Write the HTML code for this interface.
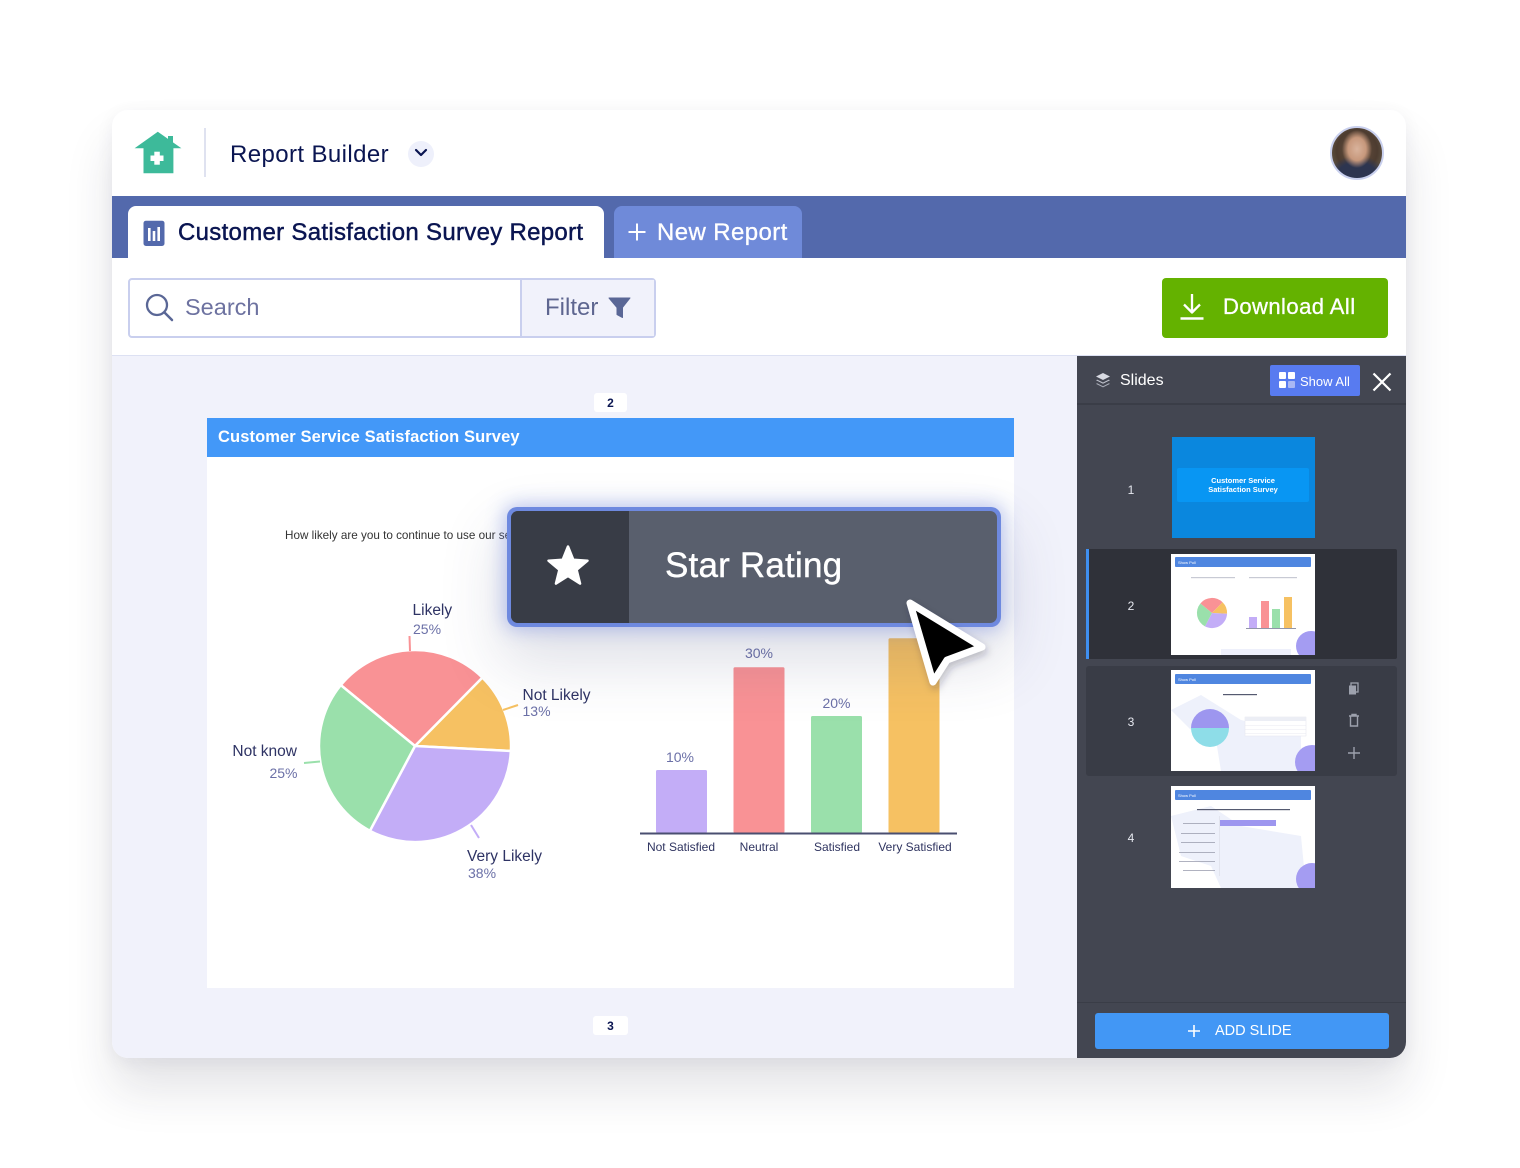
<!DOCTYPE html>
<html><head><meta charset="utf-8">
<style>
*{margin:0;padding:0;box-sizing:border-box}
body{width:1520px;height:1168px;background:#fff;position:relative;overflow:hidden;font-family:"Liberation Sans",sans-serif}
.a{position:absolute;white-space:nowrap;line-height:1}
#win{position:absolute;left:112px;top:110px;width:1294px;height:948px;border-radius:16px;background:#fff;box-shadow:0 32px 48px rgba(30,35,60,0.12),0 4px 18px rgba(30,35,60,0.06);overflow:hidden}
.navy{color:#0a1551}
.lbl{font-size:15.5px;color:#2e3364}
.pct{font-size:14px;color:#6b70a7}
.bl{font-size:14px;color:#6b70a7;text-align:center;width:60px}
.cat{font-size:12px;color:#2f3460;text-align:center;width:100px}
.num{font-size:12px;color:#e6e8ef;width:20px;text-align:center}
</style></head><body>

<div id="win">
  <div class="a" style="left:0;top:86px;width:1294px;height:62px;background:#5369ac"></div>
  <div class="a" style="left:0;top:245px;width:1294px;height:2px;background:#dde1f3"></div>
  <div class="a" style="left:0;top:246px;width:965px;height:702px;background:#f1f2fb"></div>
  <div class="a" style="left:965px;top:246px;width:329px;height:702px;background:#434651"></div>
</div>

<!-- header -->
<svg class="a" style="left:130px;top:128px" width="56" height="50" viewBox="130 128 56 50">
  <rect x="168" y="136" width="5" height="14" fill="#3dba9a"/>
  <polygon points="157.8,131.7 181.4,148.3 173.4,148.3 173.4,173.3 143.5,173.3 143.5,148.3 134.6,148.3" fill="#3dba9a"/>
  <rect x="150.5" y="155.5" width="13" height="5.5" fill="#fff"/>
  <rect x="154.3" y="151.7" width="5.5" height="13" fill="#fff"/>
</svg>
<div class="a" style="left:204px;top:128px;width:2px;height:49px;background:#dfe2f0"></div>
<div class="a navy" style="left:230px;top:142.7px;font-size:24px;letter-spacing:0.4px">Report Builder</div>
<div class="a" style="left:407.5px;top:140.5px;width:26px;height:26px;border-radius:50%;background:#eef0fb"></div>
<svg class="a" style="left:413px;top:147px" width="16" height="12"><polyline points="3,3 8,8 13,3" fill="none" stroke="#0a1551" stroke-width="2.2" stroke-linecap="round" stroke-linejoin="round"/></svg>
<div class="a" style="left:1330px;top:126px;width:54px;height:54px;border-radius:50%;border:2px solid #c9d0ee;background:radial-gradient(ellipse 30% 38% at 50% 42%,#d9b39c 0,#c7987c 60%,transparent 100%),radial-gradient(ellipse 60% 45% at 50% 100%,#2d3550 0,#2d3550 70%,transparent 100%),radial-gradient(circle at 50% 45%,#6b5342 0,#4d3c30 55%,#7a7560 100%)"></div>

<!-- tabs -->
<div class="a" style="left:128px;top:206px;width:476px;height:52px;background:#fff;border-radius:8px 8px 0 0"></div>
<svg class="a" style="left:143px;top:220px" width="22" height="26">
  <rect x="0.5" y="0.7" width="21" height="25.3" rx="2.5" fill="#5369ac"/>
  <rect x="5" y="8" width="2.6" height="13" fill="#fff"/>
  <rect x="9.7" y="11" width="2.6" height="10" fill="#fff"/>
  <rect x="14.4" y="7" width="2.6" height="14" fill="#fff"/>
</svg>
<div class="a navy" style="left:178px;top:220.7px;font-size:24px;-webkit-text-stroke:0.45px #0a1551;letter-spacing:0.3px">Customer Satisfaction Survey Report</div>
<div class="a" style="left:614px;top:206px;width:188px;height:52px;background:#6f8ad9;border-radius:8px 8px 0 0"></div>
<svg class="a" style="left:627px;top:222px" width="20" height="20"><path d="M10 1.5V18.5M1.5 10H18.5" stroke="#fff" stroke-width="2"/></svg>
<div class="a" style="left:657px;top:220.7px;font-size:24px;color:#fff;-webkit-text-stroke:0.3px #fff;letter-spacing:0.4px">New Report</div>

<!-- toolbar -->
<div class="a" style="left:128px;top:278px;width:528px;height:60px;border:2px solid #c9cfee;border-radius:4px;background:#fff"></div>
<div class="a" style="left:520px;top:280px;width:134px;height:56px;background:#f1f2fb;border-left:2px solid #c9cfee"></div>
<svg class="a" style="left:144px;top:293px" width="32" height="32"><circle cx="13" cy="12" r="10" fill="none" stroke="#5a6796" stroke-width="2.3"/><line x1="20.5" y1="19.5" x2="28" y2="27" stroke="#5a6796" stroke-width="2.5" stroke-linecap="round"/></svg>
<div class="a" style="left:185px;top:296.1px;font-size:23.5px;color:#6d72a0">Search</div>
<div class="a" style="left:545px;top:295.7px;font-size:24px;color:#5e6690">Filter</div>
<svg class="a" style="left:608px;top:297px" width="24" height="22"><path d="M1 1H22L14.5 10.5V20.5L9 17.5V10.5Z" fill="#5a6796" stroke="#5a6796" stroke-width="1" stroke-linejoin="round"/></svg>
<div class="a" style="left:1162px;top:278px;width:226px;height:60px;background:#64b200;border-radius:4px"></div>
<svg class="a" style="left:1178px;top:292px" width="28" height="30"><path d="M14 2V20M6 12.5L14 20.5L22 12.5" fill="none" stroke="#fff" stroke-width="2.3" stroke-linejoin="round"/><line x1="2.5" y1="26.5" x2="25.5" y2="26.5" stroke="#fff" stroke-width="2.4"/></svg>
<div class="a" style="left:1223px;top:296.4px;font-size:22px;letter-spacing:0.45px;color:#fff;-webkit-text-stroke:0.3px #fff">Download All</div>

<!-- slides panel -->
<div class="a" style="left:1077px;top:403px;width:329px;height:2px;background:#3a3d47"></div>
<svg class="a" style="left:1094px;top:371px" width="18" height="18">
  <path d="M9 2L16 5.5L9 9L2 5.5Z" fill="#d8dae2"/>
  <path d="M3.2 8.6L9 11.5L14.8 8.6L16 9.2L9 12.7L2 9.2Z" fill="#bfc2cc"/>
  <path d="M3.2 12.3L9 15.2L14.8 12.3L16 12.9L9 16.4L2 12.9Z" fill="#a9adb8"/>
</svg>
<div class="a" style="left:1120px;top:372.5px;font-size:16px;color:#fff">Slides</div>
<div class="a" style="left:1270px;top:365px;width:90px;height:31px;background:#587bf0;border-radius:2px"></div>
<svg class="a" style="left:1279px;top:372px" width="17" height="17"><rect x="0" y="0" width="7" height="7" rx="1" fill="#fff"/><rect x="9" y="0" width="7" height="7" rx="1" fill="#fff"/><rect x="0" y="9" width="7" height="7" rx="1" fill="#fff"/><rect x="9" y="9" width="7" height="7" rx="1" fill="#aab8f4"/></svg>
<div class="a" style="left:1300px;top:374.7px;font-size:13px;color:#fff">Show All</div>
<svg class="a" style="left:1371px;top:371px" width="22" height="22"><path d="M2.5 2.5L19.5 19.5M19.5 2.5L2.5 19.5" stroke="#fff" stroke-width="2.2"/></svg>

<!-- row backgrounds -->
<div class="a" style="left:1086px;top:549px;width:311px;height:110px;background:#2f3139;border-radius:2px"></div>
<div class="a" style="left:1086px;top:549px;width:3px;height:110px;background:#3f8ff0"></div>
<div class="a" style="left:1086px;top:666px;width:311px;height:110px;background:#393c46;border-radius:3px"></div>

<div class="a num" style="left:1121px;top:483.5px">1</div>
<div class="a num" style="left:1121px;top:599.5px">2</div>
<div class="a num" style="left:1121px;top:715.5px">3</div>
<div class="a num" style="left:1121px;top:831.5px">4</div>

<!-- thumb1 -->
<div class="a" style="left:1172px;top:437px;width:143px;height:101px;background:#0a87de"></div>
<div class="a" style="left:1177px;top:468px;width:132px;height:34px;background:#0896f3;border-radius:2px"></div>
<div class="a" style="left:1177px;top:476px;width:132px;text-align:center;font-size:7.5px;font-weight:bold;color:#fff;line-height:9px">Customer Service<br>Satisfaction Survey</div>

<!-- thumb2 -->
<svg class="a" style="left:1171px;top:554px" width="144" height="101" viewBox="0 0 144 101">
  <rect width="144" height="101" fill="#fff"/>
  <rect x="4" y="3" width="136" height="10" rx="1" fill="#4f86e0"/>
  <text x="7" y="10" font-size="4" fill="#fff" font-family="Liberation Sans">Show Poll</text>
  <rect x="20" y="23" width="44" height="1.2" fill="#c8cad4"/>
  <rect x="78" y="23" width="48" height="1.2" fill="#c8cad4"/>
  <g transform="translate(41,59) scale(0.157)">
    <path d="M0,0 L-74.2,-60.9 A96,96 0 0 1 67.4,-68.4 Z" fill="#f99295"/>
    <path d="M0,0 L67.4,-68.4 A96,96 0 0 1 95.9,5 Z" fill="#f6c162"/>
    <path d="M0,0 L95.9,5 A96,96 0 0 1 -45.1,84.8 Z" fill="#c3adf7"/>
    <path d="M0,0 L-45.1,84.8 A96,96 0 0 1 -74.2,-60.9 Z" fill="#9ae0ab"/>
  </g>
  <rect x="78" y="63" width="8" height="11" fill="#c3adf7"/>
  <rect x="90" y="47" width="8" height="27" fill="#f99295"/>
  <rect x="101" y="55" width="8" height="19" fill="#9ae0ab"/>
  <rect x="113" y="43" width="8" height="31" fill="#f6c162"/>
  <rect x="75" y="74" width="50" height="0.6" fill="#4a4f70"/>
  <rect x="50" y="95" width="70" height="6" fill="#eef0fb"/>
  <circle cx="140" cy="92" r="15" fill="#a49cf2"/>
</svg>

<!-- thumb3 -->
<svg class="a" style="left:1171px;top:670px" width="144" height="101" viewBox="0 0 144 101">
  <rect width="144" height="101" fill="#fff"/>
  <path d="M0 40 L30 25 L70 50 L90 55 L130 60 L130 101 L50 101 L45 70 L20 60 Z" fill="#eef1fb"/>
  <rect x="4" y="4" width="136" height="10" rx="1" fill="#4f86e0"/>
  <text x="7" y="11" font-size="4" fill="#fff" font-family="Liberation Sans">Show Poll</text>
  <rect x="52" y="24" width="34" height="1.2" fill="#555a70"/>
  <path d="M20,58 A19,19 0 0 1 58,58 Z" fill="#9d96ef"/>
  <path d="M20,58 A19,19 0 0 0 58,58 Z" fill="#8edde8"/>
  <rect x="74" y="47" width="61" height="19" fill="#fff" stroke="#e3e5ee" stroke-width="0.5"/>
  <rect x="74" y="47" width="61" height="4" fill="#eceef5"/>
  <rect x="74" y="55" width="61" height="0.4" fill="#e3e5ee"/>
  <rect x="74" y="59" width="61" height="0.4" fill="#e3e5ee"/>
  <rect x="74" y="63" width="61" height="0.4" fill="#e3e5ee"/>
  <circle cx="141" cy="92" r="17" fill="#a49cf2"/>
</svg>

<!-- thumb4 -->
<svg class="a" style="left:1171px;top:786px" width="144" height="102" viewBox="0 0 144 102">
  <rect width="144" height="102" fill="#fff"/>
  <path d="M0 30 L40 20 L70 40 L130 50 L135 102 L50 102 L40 80 L10 70 Z" fill="#eef1fb"/>
  <rect x="4" y="4" width="136" height="10" rx="1" fill="#4f86e0"/>
  <text x="7" y="11" font-size="4" fill="#fff" font-family="Liberation Sans">Show Poll</text>
  <rect x="26" y="23" width="93" height="1.2" fill="#555a70"/>
  <rect x="49" y="34" width="56" height="6" fill="#9d96ef"/>
  <rect x="12" y="37" width="32" height="0.8" fill="#9da0b0"/>
  <rect x="10" y="47" width="34" height="0.8" fill="#9da0b0"/>
  <rect x="10" y="56" width="34" height="0.8" fill="#9da0b0"/>
  <rect x="8" y="66" width="36" height="0.8" fill="#9da0b0"/>
  <rect x="8" y="75" width="36" height="0.8" fill="#9da0b0"/>
  <rect x="12" y="84" width="32" height="0.8" fill="#9da0b0"/>
  <rect x="48" y="30" width="0.5" height="60" fill="#d5d7e0"/>
  <circle cx="141" cy="93" r="16" fill="#a49cf2"/>
</svg>

<!-- row 3 icons -->
<svg class="a" style="left:1346px;top:681px" width="16" height="80">
  <rect x="5" y="2" width="7" height="9" fill="none" stroke="#9da1ad" stroke-width="1.3"/>
  <rect x="3" y="4.5" width="7" height="9" fill="#9da1ad"/>
  <path d="M3 35H13M6 35V33.5H10V35M4.5 35.5V45H11.5V35.5" fill="none" stroke="#9da1ad" stroke-width="1.4"/>
  <path d="M8 66V78M2 72H14" stroke="#9da1ad" stroke-width="1.4"/>
</svg>

<div class="a" style="left:1077px;top:1002px;width:329px;height:1px;background:#3a3d47"></div>
<div class="a" style="left:1095px;top:1013px;width:294px;height:36px;background:#4297f5;border-radius:3px"></div>
<svg class="a" style="left:1187px;top:1024px" width="14" height="14"><path d="M7 1V13M1 7H13" stroke="#fff" stroke-width="1.6"/></svg>
<div class="a" style="left:1215px;top:1024px;font-size:14.5px;color:#fff">ADD SLIDE</div>

<!-- canvas -->
<div class="a" style="left:594px;top:393px;width:33px;height:19px;background:#fff;border-radius:3px"></div>
<div class="a navy" style="left:594px;top:397px;width:33px;text-align:center;font-size:12px;font-weight:bold">2</div>
<div class="a" style="left:593px;top:1016px;width:35px;height:19px;background:#fff;border-radius:3px"></div>
<div class="a navy" style="left:593px;top:1020px;width:35px;text-align:center;font-size:12px;font-weight:bold">3</div>

<div class="a" style="left:207px;top:418px;width:807px;height:570px;background:#fff"></div>
<div class="a" style="left:207px;top:418px;width:807px;height:39px;background:#4398f8"></div>
<div class="a" style="left:218px;top:429.3px;font-size:16.5px;font-weight:bold;color:#fff;letter-spacing:0.1px">Customer Service Satisfaction Survey</div>
<div class="a" style="left:285px;top:529.5px;font-size:11.7px;color:#333">How likely are you to continue to use our service?</div>

<!-- charts -->
<svg class="a" style="left:0;top:0" width="1520" height="1168">
  <g stroke="#fff" stroke-width="2.5" stroke-linejoin="round">
    <path d="M415,746 L340.8,685.1 A96,96 0 0 1 482.4,677.6 Z" fill="#f99295"/>
    <path d="M415,746 L482.4,677.6 A96,96 0 0 1 510.9,751 Z" fill="#f6c162"/>
    <path d="M415,746 L510.9,751 A96,96 0 0 1 369.9,830.8 Z" fill="#c3adf7"/>
    <path d="M415,746 L369.9,830.8 A96,96 0 0 1 340.8,685.1 Z" fill="#9ae0ab"/>
  </g>
  <line x1="409.5" y1="636" x2="410" y2="651" stroke="#f99295" stroke-width="2"/>
  <line x1="503" y1="710" x2="518" y2="705" stroke="#f6c162" stroke-width="2"/>
  <line x1="304" y1="763" x2="320" y2="761.5" stroke="#9ae0ab" stroke-width="2"/>
  <line x1="471" y1="825" x2="479" y2="838" stroke="#c3adf7" stroke-width="2"/>
  <rect x="656" y="770" width="51" height="63" rx="1.5" fill="#c3adf7"/>
  <rect x="733.5" y="667.3" width="51" height="165.7" rx="1.5" fill="#f99295"/>
  <rect x="811" y="716" width="51" height="117" rx="1.5" fill="#9ae0ab"/>
  <rect x="888.5" y="638.3" width="51" height="194.7" rx="1.5" fill="#f6c162"/>
  <line x1="640" y1="833.5" x2="957" y2="833.5" stroke="#4a4f70" stroke-width="2"/>
</svg>

<div class="a lbl" style="left:412.5px;top:602.9px">Likely</div>
<div class="a pct" style="left:413px;top:621.5px">25%</div>
<div class="a lbl" style="left:522.5px;top:687.6px">Not Likely</div>
<div class="a pct" style="left:522.5px;top:704.1px">13%</div>
<div class="a lbl" style="left:197px;top:744.2px;width:100px;text-align:right">Not know</div>
<div class="a pct" style="left:197px;top:765.8px;width:100.5px;text-align:right">25%</div>
<div class="a lbl" style="left:467px;top:848.6px">Very Likely</div>
<div class="a pct" style="left:468px;top:866.4px">38%</div>

<div class="a bl" style="left:650px;top:749.8px">10%</div>
<div class="a bl" style="left:729px;top:646.4px">30%</div>
<div class="a bl" style="left:806.5px;top:696.4px">20%</div>
<div class="a cat" style="left:631px;top:840.5px">Not Satisfied</div>
<div class="a cat" style="left:709px;top:840.5px">Neutral</div>
<div class="a cat" style="left:787px;top:840.5px">Satisfied</div>
<div class="a cat" style="left:865px;top:840.5px">Very Satisfied</div>

<!-- star rating overlay -->
<div class="a" style="left:507px;top:507px;width:494px;height:120px;border-radius:10px;background:#6e89df;box-shadow:0 0 18px 3px rgba(112,136,223,0.45),0 30px 60px 8px rgba(60,70,110,0.16)"></div>
<div class="a" style="left:511px;top:511px;width:486px;height:112px;border-radius:7px;background:#595f6d;overflow:hidden">
  <div class="a" style="left:0;top:0;width:118px;height:112px;background:#383c46"></div>
</div>
<svg class="a" style="left:540px;top:540px" width="56" height="56" viewBox="540 540 56 56">
  <polygon points="568,546.5 573.3,559.7 587.5,560.7 576.6,569.8 580.05,583.6 568,576 555.95,583.6 559.4,569.8 548.5,560.7 562.7,559.7" fill="#fff" stroke="#fff" stroke-width="2.5" stroke-linejoin="round"/>
</svg>
<div class="a" style="left:665px;top:548.4px;font-size:35px;color:#fff;-webkit-text-stroke:0.4px #fff;letter-spacing:0.2px">Star Rating</div>

<!-- cursor -->
<svg class="a" style="left:880px;top:580px" width="130" height="130" viewBox="880 580 130 130">
  <defs><filter id="sh" x="-50%" y="-50%" width="200%" height="200%"><feDropShadow dx="2" dy="4" stdDeviation="4" flood-color="#1a1f40" flood-opacity="0.25"/></filter></defs>
  <polygon points="910,603 933,682 947,660 982,647" fill="#000" stroke="#fff" stroke-width="7" stroke-linejoin="round" filter="url(#sh)"/>
</svg>

</body></html>
